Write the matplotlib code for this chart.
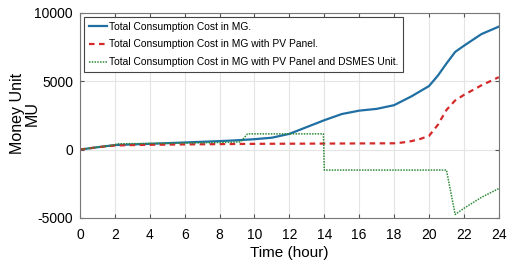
import numpy as np
import matplotlib
matplotlib.use("Agg")
import matplotlib.pyplot as plt

# hours and costs
t_mg = [0, 1, 2, 3, 4, 5, 6, 7, 8, 9, 10, 11, 12, 13, 14, 15, 16, 17, 18, 19, 20, 20.5, 21, 21.5, 22, 23, 24]
cost_mg = [0, 170, 330, 380, 420, 470, 520, 570, 620, 680, 760, 870, 1150, 1650, 2150, 2600, 2850, 2980, 3250, 3900, 4650, 5400, 6300, 7150, 7600, 8450, 9000]

t_pv = [0, 1, 2, 3, 4, 6, 8, 10, 12, 14, 16, 18, 18.5, 19, 19.5, 20, 20.5, 21, 21.5, 22, 23, 24]
cost_pv = [0, 170, 300, 330, 350, 380, 400, 420, 430, 440, 450, 460, 520, 620, 780, 1000, 1800, 2900, 3600, 4000, 4700, 5300]

t_pv_dsmes = [0, 1, 2, 2.1, 4, 6, 8, 9.2, 9.6, 13.95, 14.0, 21.0, 21.5, 22, 23, 24]
cost_pv_dsmes = [0, 170, 330, 420, 450, 480, 520, 560, 1150, 1150, -1500, -1500, -4750, -4300, -3500, -2850]

plt.rcParams['font.family'] = ['Liberation Sans', 'DejaVu Sans']
plt.rcParams['axes.unicode_minus'] = False

fig = plt.figure(figsize=(5.09, 2.70), dpi=100)
ax = fig.add_axes([0.157, 0.193, 0.823, 0.759])

ax.plot(t_mg, cost_mg, color='#1f6fa3', lw=1.6, label='Total Consumption Cost in MG.')
ax.plot(t_pv, cost_pv, color='#d42a2a', lw=1.6, ls=(0, (2.5, 2)), label='Total Consumption Cost in MG with PV Panel.')
ax.plot(t_pv_dsmes, cost_pv_dsmes, color='#2f8a3a', lw=1.1, ls=(0, (1, 0.8)),
        label='Total Consumption Cost in MG with PV Panel and DSMES Unit.')

ax.set_xlim(0, 24)
ax.set_ylim(-5000, 10000)
ax.set_xticks(np.arange(0, 25, 2))
ax.set_yticks([-5000, 0, 5000, 10000])
ax.tick_params(direction='in', top=True, right=True, labelsize=10, length=3, color='#555555')
ax.tick_params(axis='x', pad=7)
ax.tick_params(axis='y', pad=5)
ax.grid(True, color='#e4e4e4', lw=0.8)
for s in ax.spines.values():
    s.set_color('#777777')
    s.set_linewidth(0.8)

ax.set_xlabel('Time (hour)', fontsize=11, labelpad=3)
# y label placed by hand so it stays inside the figure
fig.text(25 / 509, 1 - 113 / 270, 'Money Unit\nMU', fontsize=11.5, rotation=90,
         ha='center', va='center', multialignment='center', linespacing=0.95)

leg = ax.legend(loc='upper left', fontsize=7.4, handlelength=1.8, handletextpad=0.15,
                borderpad=0.5, labelspacing=0.75, fancybox=False, framealpha=1,
                borderaxespad=0.35)
leg.get_frame().set_edgecolor('#444444')
leg.get_frame().set_linewidth(0.8)

fig.savefig('out.png', dpi=100)
